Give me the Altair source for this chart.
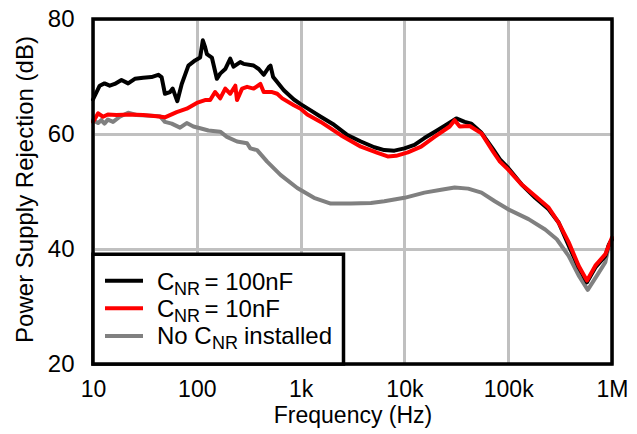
import altair as alt
import pandas as pd

# (frequency Hz, PSRR dB)
cnr_100nf = [
    (10, 66.0), (11.6, 68.4), (12.9, 68.8), (14.5, 68.4), (16.2, 68.7), (18.8, 69.4),
    (21.8, 68.8), (25.3, 69.6), (30.4, 69.8), (36.6, 69.9), (42.5, 70.3), (45.8, 69.9),
    (49.3, 67.0), (55.2, 67.3), (58.6, 67.9), (64.9, 65.7), (71.6, 68.7), (83, 71.9),
    (96.3, 72.8), (107.7, 73.3), (114.3, 76.3), (120.3, 75.1), (125, 73.9), (139.7, 73.3),
    (156, 69.6), (168, 70.5), (188, 71.3), (210, 73.1), (226, 71.7), (262, 72.5),
    (282, 72.2), (353, 71.9), (395, 71.3), (441, 70.3), (493, 71.6), (513, 71.9),
    (544, 69.9), (689, 67.6), (861, 66.0), (1000, 65.2), (1250, 64.1), (1563, 63.0),
    (2100, 61.6), (2830, 59.8), (3810, 58.7), (5130, 57.7), (6400, 57.2), (8000, 57.1),
    (10000, 57.5), (12500, 58.1), (15600, 59.3), (21000, 60.7), (26300, 61.8), (31600, 62.7),
    (38100, 62.1), (44200, 61.8), (55300, 60.2), (71800, 57.3), (83200, 55.6), (100000, 54.1),
    (135000, 51.2), (182000, 48.9), (245000, 46.9), (306000, 44.6), (382000, 40.6),
    (477000, 36.8), (574000, 34.2), (691000, 36.8), (863000, 38.8), (930000, 40.7),
    (1000000, 41.7),
]

cnr_10nf = [
    (10, 62.1), (11.2, 63.6), (12.5, 63.0), (13.9, 63.4), (16.8, 63.3), (22.6, 63.4),
    (30.4, 63.3), (41, 63.1), (49.3, 62.9), (64, 63.8), (80, 64.4), (100, 65.4),
    (120, 65.9), (134.5, 65.9), (150, 67.3), (168, 66.2), (188, 67.9), (210, 67.0),
    (235, 68.4), (244, 65.9), (273, 67.9), (305, 68.2), (353, 67.9), (410, 68.7),
    (441, 67.3), (532, 67.3), (595, 67.0), (665, 66.2), (861, 65.0), (1000, 64.4),
    (1160, 63.4), (1563, 62.1), (2440, 59.8), (3810, 57.8), (5520, 56.7), (6900, 56.1),
    (8320, 56.2), (10800, 56.8), (14500, 57.8), (19500, 59.5), (27300, 61.3), (30500, 62.4),
    (34100, 61.3), (42600, 61.4), (55300, 60.1), (71800, 56.9), (83200, 55.2), (100000, 53.8),
    (135000, 51.2), (182000, 49.2), (245000, 47.2), (306000, 44.6), (382000, 41.2),
    (477000, 37.1), (574000, 34.5), (691000, 37.1), (863000, 39.1), (1000000, 42.0),
]

no_cnr = [
    (10, 62.4), (11.2, 61.9), (12, 62.4), (12.9, 61.8), (13.9, 62.5), (15.6, 62.1),
    (18.1, 63.0), (21.8, 63.7), (26.2, 63.3), (32.8, 63.2), (44.1, 63.1), (49.3, 62.1),
    (57.3, 61.8), (68.9, 61.1), (80, 61.9), (92.7, 61.3), (107.7, 61.0), (129.4, 60.6),
    (168, 60.4), (195, 59.5), (244, 58.7), (305, 58.4), (328, 57.5), (381, 57.2),
    (476, 55.2), (640, 52.9), (929, 50.6), (1346, 48.9), (1950, 47.9), (3050, 47.9),
    (4760, 48.0), (6400, 48.3), (10000, 48.9), (15600, 49.8), (22600, 50.3), (30500, 50.7),
    (41100, 50.5), (55300, 49.8), (74300, 48.3), (100000, 46.9), (157000, 45.2),
    (227000, 43.4), (294000, 41.7), (382000, 38.8), (477000, 35.4), (584000, 32.9),
    (718000, 35.4), (863000, 37.7), (930000, 40.6), (1000000, 41.7),
]

x_ticks = [10, 100, 1000, 10000, 100000, 1000000]
y_ticks = [20, 40, 60, 80]
x_title = "Frequency (Hz)"
y_title = "Power Supply Rejection (dB)"

legend_main = ["C", "C", "No C"]
legend_sub = ["NR", "NR", "NR"]
legend_tail = ["= 100nF", "= 10nF", "installed"]
line_colors = ["#000000", "#ff0000", "#808080"]

FONT = "Liberation Sans"
W, H = 519, 345


def series_df(points):
    return pd.DataFrame({
        "freq": [p[0] for p in points],
        "db": [p[1] for p in points],
        "i": list(range(len(points))),
    })


x_enc = alt.X(
    "freq:Q",
    scale=alt.Scale(type="log", domain=[10, 1000000], nice=False),
    axis=alt.Axis(
        values=x_ticks,
        labelExpr="datum.value >= 1000000 ? '1M' : (datum.value >= 1000 ? round(datum.value / 1000) + 'k' : '' + round(datum.value))",
        title=x_title, grid=True, ticks=False, domain=False,
        labelFlush=False, labelOverlap=False, labelPadding=14, labelFontSize=23,
        titleY=58, titleBaseline="alphabetic", titleFontSize=23,
    ),
)
y_enc = alt.Y(
    "db:Q",
    scale=alt.Scale(domain=[20, 80], nice=False),
    axis=alt.Axis(
        values=y_ticks, title=y_title, grid=True, ticks=False, domain=False,
        labelFlush=False, labelOverlap=False, labelPadding=19,
        titleX=-61, titleY=170, titleBaseline="alphabetic",
    ),
)


def line_layer(points, color):
    return alt.Chart(series_df(points)).mark_line(
        color=color, strokeWidth=4, strokeJoin="round", strokeCap="round"
    ).encode(x=x_enc, y=y_enc, order="i:Q")


one = pd.DataFrame({"k": [0]})

frame = alt.Chart(one).mark_rect(fill="transparent", stroke="black", strokeWidth=3.5).encode(
    x=alt.value(0), x2=alt.value(W), y=alt.value(0), y2=alt.value(H)
)

legend_box = alt.Chart(one).mark_rect(fill="white", stroke="black", strokeWidth=3.5).encode(
    x=alt.value(0), x2=alt.value(250.5), y=alt.value(235.3), y2=alt.value(H)
)

row_line_y = [261.7, 289.3, 317.0]
row_base_y = [271.3, 298.0, 324.7]
sub_x = [81, 81, 119]
tail_x = [111.5, 111.5, 151]

legend_layers = []
for k in range(3):
    legend_layers.append(
        alt.Chart(one).mark_rule(color=line_colors[k], strokeWidth=4).encode(
            x=alt.value(12), x2=alt.value(50), y=alt.value(row_line_y[k])
        )
    )
    legend_layers.append(
        alt.Chart(pd.DataFrame({"t": [legend_main[k]]})).mark_text(
            align="left", baseline="alphabetic", font=FONT, fontSize=24, color="black"
        ).encode(x=alt.value(64), y=alt.value(row_base_y[k]), text="t:N")
    )
    legend_layers.append(
        alt.Chart(pd.DataFrame({"t": [legend_sub[k]]})).mark_text(
            align="left", baseline="alphabetic", font=FONT, fontSize=18, color="black"
        ).encode(x=alt.value(sub_x[k]), y=alt.value(row_base_y[k] + 5), text="t:N")
    )
    legend_layers.append(
        alt.Chart(pd.DataFrame({"t": [legend_tail[k]]})).mark_text(
            align="left", baseline="alphabetic", font=FONT, fontSize=24, color="black"
        ).encode(x=alt.value(tail_x[k]), y=alt.value(row_base_y[k]), text="t:N")
    )

chart = alt.layer(
    line_layer(no_cnr, line_colors[2]),
    line_layer(cnr_100nf, line_colors[0]),
    line_layer(cnr_10nf, line_colors[1]),
    frame,
    legend_box,
    *legend_layers,
).properties(
    width=W, height=H,
    padding={"left": 93, "top": 19, "right": 25, "bottom": 70},
    autosize=alt.AutoSizeParams(type="none"),
    background="white",
).configure_view(
    strokeWidth=0
).configure_axis(
    labelFont=FONT, titleFont=FONT, labelFontSize=24, titleFontSize=24,
    labelColor="black", titleColor="black", titleFontWeight="normal",
    gridColor="#c0c0c0", gridWidth=3,
)

chart.save("out.html", embed_options={"renderer": "svg", "actions": False})
